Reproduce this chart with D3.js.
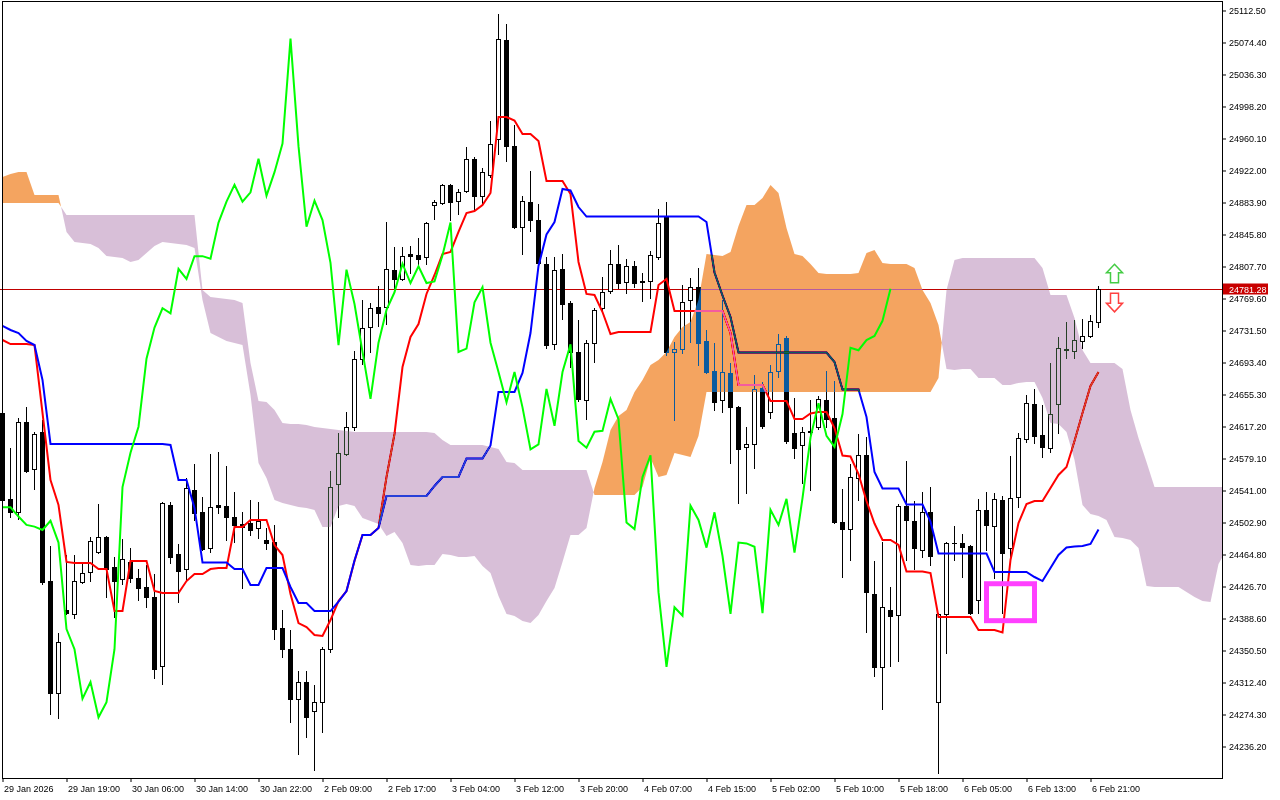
<!DOCTYPE html>
<html><head><meta charset="utf-8">
<script src="https://cdn.jsdelivr.net/npm/d3@7"></script>
<style>
html,body{margin:0;padding:0;background:#fff;}
svg{display:block;}
</style></head><body>
<svg id="chart" width="1280" height="800"></svg>
<script>
// ---------------- DATA ----------------
const timeLabels = ["29 Jan 2026","29 Jan 19:00","30 Jan 06:00","30 Jan 14:00","30 Jan 22:00","2 Feb 09:00","2 Feb 17:00","3 Feb 04:00","3 Feb 12:00","3 Feb 20:00","4 Feb 07:00","4 Feb 15:00","5 Feb 02:00","5 Feb 10:00","5 Feb 18:00","6 Feb 05:00","6 Feb 13:00","6 Feb 21:00"];
const labelBars = [0,8,16,24,32,40,48,56,64,72,80,88,96,104,112,120,128,136];
const priceTicks = [25112.50,25074.40,25036.30,24998.20,24960.10,24922.00,24883.90,24845.80,24807.70,24769.60,24731.50,24693.40,24655.30,24617.20,24579.10,24541.00,24502.90,24464.80,24426.70,24388.60,24350.50,24312.40,24274.30,24236.20];

const open = [
24633,24531,24515,24623,24567,24611,24433,24300,24399,24394,
24432,24444,24468,24486,24450,24436,24456,24437,24426,24414,
24332,24524,24465,24448,24542,24515,24473,24524,24523,24510,
24501,24502,24496,24482,24480,24377,24352,24293,24313,24279,
24289,24352,24549,24585,24617,24698,24736,24760,24760,24804,
24793,24823,24821,24819,24881,24883,24905,24886,24898,24936,
24892,24917,24960,25077,24951,24855,24885,24863,24811,24715,
24805,24764,24706,24649,24717,24758,24779,24811,24789,24808,
24789,24790,24819,24867,24706,24710,24768,24783,24719,24683,
24649,24681,24640,24593,24596,24663,24635,24683,24723,24610,
24595,24611,24617,24649,24627,24503,24495,24556,24583,24418,
24331,24399,24393,24523,24505,24470,24515,24289,24394,24479,
24479,24475,24411,24518,24499,24530,24473,24533,24602,24644,
24607,24592,24644,24709,24707,24719,24725,24742];
const high = [
24637,24592,24627,24640,24611,24625,24475,24371,24464,24464,
24455,24486,24525,24487,24462,24483,24473,24448,24452,24442,
24527,24527,24477,24556,24573,24533,24585,24587,24570,24539,
24515,24530,24527,24496,24500,24399,24375,24326,24326,24309,
24355,24564,24610,24635,24707,24768,24764,24785,24861,24831,
24831,24832,24842,24861,24887,24906,24906,24900,24950,24938,
24925,24981,25108,25096,24976,24892,24921,24882,24819,24819,
24823,24767,24744,24720,24758,24795,24827,24833,24817,24814,
24800,24826,24876,24885,24718,24786,24794,24806,24732,24717,
24768,24693,24642,24617,24679,24670,24690,24727,24725,24651,
24617,24649,24653,24683,24671,24543,24573,24608,24605,24457,
24480,24426,24525,24576,24528,24539,24545,24395,24480,24499,
24489,24476,24531,24539,24538,24535,24582,24610,24655,24662,
24643,24693,24724,24742,24744,24745,24750,24785];
const low = [
24518,24510,24507,24563,24543,24430,24275,24270,24394,24389,
24431,24433,24467,24414,24390,24430,24432,24411,24402,24318,
24311,24455,24408,24436,24506,24470,24468,24514,24482,24480,
24425,24488,24485,24471,24364,24343,24265,24227,24248,24208,
24254,24349,24510,24583,24613,24692,24706,24737,24739,24782,
24792,24800,24811,24811,24864,24882,24863,24870,24896,24876,
24882,24914,24942,24933,24853,24823,24850,24810,24711,24710,
24745,24688,24647,24626,24694,24756,24776,24782,24776,24783,
24767,24770,24817,24702,24625,24705,24718,24690,24681,24637,
24634,24574,24526,24538,24568,24616,24627,24676,24598,24580,
24550,24542,24614,24617,24502,24438,24458,24530,24373,24320,
24281,24332,24338,24458,24448,24462,24452,24205,24348,24458,
24438,24394,24395,24470,24437,24395,24462,24521,24599,24598,
24581,24587,24610,24699,24699,24711,24724,24736];
const close = [
24530,24515,24623,24564,24608,24432,24300,24361,24395,24433,
24443,24481,24486,24448,24433,24460,24437,24425,24414,24329,
24526,24462,24445,24544,24514,24471,24521,24521,24510,24500,
24498,24494,24505,24479,24376,24352,24293,24313,24271,24289,
24352,24545,24586,24617,24698,24735,24758,24752,24805,24793,
24820,24820,24817,24860,24885,24905,24885,24896,24936,24892,
24920,24954,25079,24951,24855,24886,24863,24812,24714,24804,
24763,24706,24650,24717,24756,24777,24811,24788,24808,24788,
24790,24821,24860,24706,24710,24765,24783,24717,24682,24646,
24682,24640,24590,24596,24662,24618,24682,24715,24600,24592,
24611,24612,24650,24626,24503,24495,24557,24583,24420,24331,
24402,24392,24523,24506,24473,24515,24463,24394,24479,24478,
24474,24395,24518,24500,24531,24467,24532,24604,24645,24606,
24593,24632,24711,24708,24720,24725,24743,24781.28];

const tenkan = [
24720.2,24715.4,24715.4,24715.4,24714.2,24633.3,24553.5,24523.7,24455.9,24454.7,
24454.7,24454.7,24447.5,24447.5,24397.5,24397.5,24457.1,24457.1,24457.1,24421.3,
24419.0,24419.0,24419.0,24433.2,24441.6,24441.6,24447.5,24448.7,24448.7,24497.5,
24497.5,24505.9,24505.9,24505.9,24476.1,24464.2,24417.8,24383.2,24378.5,24369.0,
24367.8,24386.8,24409.4,24421.3,24457.1,24488.0,24488.0,24496.4,24557.1,24608.3,
24688.0,24723.8,24739.2,24775.0,24797.6,24822.6,24825.0,24848.8,24871.4,24873.8,
24880.9,24895.2,24985.7,24985.7,24981.5,24965.5,24965.5,24957.1,24909.5,24909.5,
24909.5,24894.0,24813.1,24775.0,24773.8,24753.5,24727.3,24729.7,24729.7,24729.7,
24729.7,24729.7,24785.7,24792.8,24754.7,24754.7,24754.7,24754.7,24754.7,24754.7,
24754.7,24728.5,24666.6,24666.6,24666.6,24666.6,24647.6,24647.6,24647.6,24626.1,
24626.1,24632.7,24634.5,24634.5,24615.4,24582.7,24581.5,24560.6,24528.5,24501.7,
24482.1,24482.1,24476.1,24444.6,24444.6,24444.6,24442.8,24390.4,24390.4,24390.4,
24390.4,24390.4,24374.9,24374.9,24374.9,24371.9,24458.3,24502.3,24524.9,24528.5,
24528.5,24544.0,24559.5,24569.0,24599.9,24633.3,24665.4,24682.1];

const kijun = [
24736.9,24732.1,24728.5,24719.0,24714.2,24672.6,24596.4,24596.4,24596.4,24596.4,
24596.4,24596.4,24596.4,24596.4,24596.4,24596.4,24596.4,24596.4,24596.4,24596.4,
24596.4,24595.2,24553.5,24553.5,24520.2,24455.3,24455.3,24455.3,24455.3,24447.5,
24447.5,24428.5,24428.5,24448.7,24448.7,24448.7,24426.1,24407.1,24407.1,24397.5,
24397.5,24397.5,24408.8,24421.3,24457.7,24488.0,24488.0,24496.4,24534.5,24534.5,
24534.5,24534.5,24534.5,24534.5,24546.4,24557.1,24557.1,24557.1,24579.1,24579.1,
24579.1,24594.6,24658.3,24658.3,24658.3,24680.9,24728.5,24808.3,24845.8,24860.7,
24900.0,24898.2,24878.5,24867.2,24867.2,24867.2,24867.2,24867.2,24867.2,24867.2,
24867.2,24867.2,24867.2,24867.2,24867.2,24867.2,24867.2,24867.2,24860.7,24800.6,
24773.2,24747.6,24705.3,24705.3,24705.3,24705.3,24705.3,24705.3,24705.3,24705.3,
24705.3,24705.3,24705.3,24705.3,24694.0,24661.3,24661.3,24661.3,24628.5,24563.0,
24543.4,24543.4,24543.4,24524.3,24524.3,24524.3,24504.1,24466.0,24466.0,24466.0,
24466.0,24466.0,24466.0,24466.0,24444.0,24444.0,24444.0,24444.0,24444.0,24438.0,
24433.2,24448.7,24464.2,24473.1,24474.3,24474.9,24477.3,24494.6];

const spanA = [
24914.3,24917.8,24920.2,24920.2,24892.8,24892.8,24892.8,24892.8,24848.8,24836.9,
24835.7,24834.5,24829.7,24820.2,24819.0,24817.8,24813.1,24815.4,24823.8,24832.1,
24836.9,24835.7,24834.5,24833.3,24829.7,24767.8,24728.5,24723.8,24719.0,24716.6,
24714.2,24654.7,24573.7,24555.9,24529.7,24526.1,24523.7,24521.4,24520.2,24517.8,
24497.5,24497.5,24522.5,24524.9,24522.5,24508.3,24504.7,24501.1,24486.8,24491.6,
24478.5,24452.3,24451.1,24452.3,24452.3,24465.4,24464.2,24461.8,24461.8,24463.0,
24451.1,24442.8,24415.4,24394.0,24391.6,24385.6,24383.2,24392.8,24409.4,24424.9,
24455.9,24488.0,24488.0,24496.4,24544.0,24574.9,24613.0,24629.7,24636.8,24658.3,
24672.6,24690.4,24696.4,24705.9,24723.8,24735.7,24741.6,24767.8,24822.6,24821.4,
24820.2,24825.0,24855.9,24880.9,24880.9,24889.3,24904.7,24895.2,24853.5,24822.6,
24820.2,24810.7,24800.0,24798.8,24798.8,24798.8,24798.8,24800.0,24823.8,24827.3,
24811.9,24810.7,24810.7,24810.7,24805.9,24779.7,24764.2,24738.1,24685.7,24684.5,
24685.7,24685.7,24674.9,24674.9,24674.9,24666.6,24666.6,24669.0,24670.2,24670.2,
24651.1,24621.4,24620.2,24610.7,24577.3,24523.7,24513.0,24510.6,24505.9,24485.6,
24484.5,24482.1,24472.5,24427.3,24426.1,24426.1,24426.1,24426.1,24420.2,24414.2,
24409.4,24408.3,24453.5,24470.2];

const spanB = [
24883.3,24883.3,24883.3,24883.3,24883.3,24883.3,24883.3,24883.3,24869.0,24869.0,
24869.0,24869.0,24869.0,24869.0,24869.0,24869.0,24869.0,24869.0,24869.0,24869.0,
24869.0,24869.0,24869.0,24869.0,24869.0,24779.7,24771.4,24770.2,24769.0,24767.8,
24764.2,24692.8,24647.6,24646.4,24636.8,24621.4,24620.2,24620.2,24619.0,24616.6,
24615.4,24614.2,24613.0,24611.8,24610.7,24610.7,24610.7,24610.7,24610.7,24610.7,
24610.7,24610.7,24610.7,24610.7,24609.5,24601.1,24595.2,24595.2,24595.2,24595.2,
24595.2,24592.8,24590.4,24574.9,24573.7,24565.4,24565.4,24565.4,24565.4,24565.4,
24565.4,24565.4,24565.4,24565.4,24535.6,24535.6,24535.6,24535.6,24535.6,24535.6,
24545.2,24579.7,24557.1,24559.5,24585.7,24583.3,24580.9,24605.9,24658.3,24658.3,
24658.3,24658.3,24658.3,24658.3,24658.3,24658.3,24658.3,24658.3,24658.3,24658.3,
24658.3,24658.3,24658.3,24658.3,24658.3,24658.3,24658.3,24658.3,24658.3,24658.3,
24658.3,24658.3,24658.3,24658.3,24658.3,24658.3,24658.3,24674.9,24779.7,24815.4,
24817.8,24817.8,24817.8,24817.8,24817.8,24817.8,24817.8,24817.8,24817.8,24817.8,
24805.9,24773.8,24773.8,24773.8,24746.4,24708.3,24692.8,24692.8,24692.8,24692.8,
24685.7,24636.8,24603.5,24574.9,24545.2,24545.2,24545.2,24545.2,24545.2,24545.2,
24545.2,24545.2,24545.2,24545.2];

const chikouShift = 26;
const lastPrice = 24781.28;
const boxBars = [123, 129];
const boxPrices = [24430, 24386];
const signals = [{bar:139, price:24799, dir:"up"}, {bar:139, price:24765, dir:"down"}];

// ---------------- CHART ----------------
const W = 1280, H = 800;
const FONT = "'Liberation Sans', Arial, sans-serif";
const x = d3.scaleLinear().domain([0, 152.5]).range([2.5, 1222.5]);
const y = d3.scaleLinear().domain([24198.7, 25125.0]).range([778, 0]);

const svg = d3.select("#chart");
svg.append("rect").attr("width", W).attr("height", H).attr("fill", "#fff");

// bid line (drawn under the cloud)
const py = Math.round(y(lastPrice)) + 0.5;
svg.append("line").attr("x1", 0).attr("x2", 1222).attr("y1", py).attr("y2", py)
  .attr("stroke", "#c00000").attr("stroke-width", 1);

// candles
const idx = d3.range(close.length);
svg.selectAll("line.wick").data(idx).join("line").attr("class", "wick")
  .attr("x1", i => x(i)).attr("x2", i => x(i))
  .attr("y1", i => Math.round(y(high[i]))).attr("y2", i => Math.round(y(low[i])) + 1)
  .attr("stroke", "#000").attr("stroke-width", 1);
svg.selectAll("rect.body").data(idx).join("rect").attr("class", "body")
  .each(function (i) {
    const up = close[i] >= open[i];
    const yt = Math.round(y(Math.max(open[i], close[i])));
    const yb = Math.round(y(Math.min(open[i], close[i])));
    const r = d3.select(this);
    if (up) {
      r.attr("x", x(i) - 2).attr("y", yt + 0.5).attr("width", 4)
       .attr("height", Math.max(0.01, yb - yt)).attr("fill", "#fff")
       .attr("stroke", "#000").attr("stroke-width", 1);
    } else {
      r.attr("x", x(i) - 2.5).attr("y", yt).attr("width", 5)
       .attr("height", Math.max(1, yb - yt + 1)).attr("fill", "#000");
    }
  });

// tenkan / kijun
const lineOf = arr => d3.line().x(i => x(i)).y(i => y(arr[i]));
svg.append("path").attr("d", lineOf(tenkan)(idx)).attr("fill", "none")
  .attr("stroke", "#ff0000").attr("stroke-width", 2);
svg.append("path").attr("d", lineOf(kijun)(idx)).attr("fill", "none")
  .attr("stroke", "#0000ff").attr("stroke-width", 2);

// cloud (split where span A and span B cross), drawn in difference mode like MT's XOR fill
function cloudRuns(A, B) {
  const runs = [];
  let cur = null;
  for (let i = 0; i < A.length; i++) {
    const d = A[i] - B[i];
    const s = d >= 0 ? 1 : -1;
    if (!cur) { cur = { s, pts: [{ i, a: A[i], b: B[i] }] }; continue; }
    if (s === cur.s) { cur.pts.push({ i, a: A[i], b: B[i] }); }
    else {
      const dp = A[i - 1] - B[i - 1];
      const t = dp / (dp - d);
      const v = A[i - 1] + t * (A[i] - A[i - 1]);
      const cp = { i: i - 1 + t, a: v, b: v };
      cur.pts.push(cp); runs.push(cur);
      cur = { s, pts: [cp, { i, a: A[i], b: B[i] }] };
    }
  }
  runs.push(cur);
  return runs;
}
const cloudArea = d3.area().x(p => x(p.i)).y0(p => y(p.b)).y1(p => y(p.a));
cloudRuns(spanA, spanB).forEach(r => {
  svg.append("path").attr("d", cloudArea(r.pts))
    .attr("fill", r.s > 0 ? "rgb(11,91,159)" : "rgb(39,64,39)")
    .style("mix-blend-mode", "difference");
});

// chikou span (close plotted 26 bars back)
const chIdx = d3.range(chikouShift, close.length);
svg.append("path")
  .attr("d", d3.line().x(j => x(j - chikouShift)).y(j => y(close[j]))(chIdx))
  .attr("fill", "none").attr("stroke", "#00ff00").attr("stroke-width", 2);

// annotation rectangle
svg.append("rect")
  .attr("x", x(boxBars[0])).attr("y", y(boxPrices[0]))
  .attr("width", x(boxBars[1]) - x(boxBars[0])).attr("height", y(boxPrices[1]) - y(boxPrices[0]))
  .attr("fill", "none").attr("stroke", "#ff40ff").attr("stroke-width", 5);

// signal arrows
signals.forEach(s => {
  const cx = x(s.bar), cy = y(s.price);
  let pts;
  if (s.dir === "up") {
    pts = [[cx, cy - 9.5], [cx + 8, cy - 1], [cx + 4, cy - 1], [cx + 4, cy + 9], [cx - 4, cy + 9], [cx - 4, cy - 1], [cx - 8, cy - 1]];
  } else {
    pts = [[cx, cy + 9.5], [cx + 8, cy + 1], [cx + 4, cy + 1], [cx + 4, cy - 9], [cx - 4, cy - 9], [cx - 4, cy + 1], [cx - 8, cy + 1]];
  }
  svg.append("path").attr("d", "M" + pts.map(p => p.join(",")).join("L") + "Z")
    .attr("fill", "#fff").attr("stroke", s.dir === "up" ? "#44cc44" : "#ff4040")
    .attr("stroke-width", 1.5);
});

// axis panels
svg.append("rect").attr("x", 1223).attr("y", 0).attr("width", W - 1223).attr("height", H).attr("fill", "#fff");
svg.append("rect").attr("x", 0).attr("y", 779).attr("width", W).attr("height", H - 779).attr("fill", "#fff");

// frame
svg.append("rect").attr("x", 2.5).attr("y", 1.5).attr("width", 1220).attr("height", 777)
  .attr("fill", "none").attr("stroke", "#000").attr("stroke-width", 1);

// y axis
const gy = svg.append("g").attr("transform", "translate(1222,0)")
  .call(d3.axisRight(y).tickValues(priceTicks).tickFormat(d => d.toFixed(2)).tickSize(4).tickPadding(3));
gy.select(".domain").remove();
gy.selectAll("text").attr("font-size", 9).attr("font-family", FONT).attr("fill", "#000");

// x axis
const gx = svg.append("g").attr("transform", "translate(0,778)")
  .call(d3.axisBottom(x).tickValues(labelBars).tickFormat((d, i) => timeLabels[i]).tickSize(4).tickPadding(4));
gx.select(".domain").remove();
gx.selectAll("text").attr("text-anchor", "start").attr("x", 1)
  .attr("font-size", 9).attr("font-family", FONT).attr("fill", "#000");

// current price label
svg.append("rect").attr("x", 1223).attr("y", py - 6).attr("width", 45).attr("height", 11).attr("fill", "#c80000");
svg.append("text").attr("x", 1229).attr("y", py + 3.5).attr("font-size", 9).attr("font-family", FONT)
  .attr("fill", "#fff").text(lastPrice.toFixed(2));
</script>
</body></html>
